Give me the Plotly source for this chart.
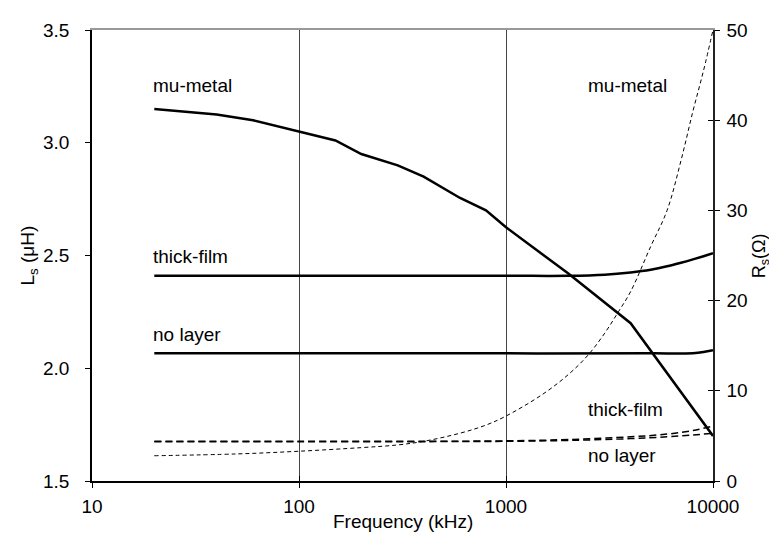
import math
import plotly.graph_objects as go

# ---- data ----
freq_mu_L = [20, 40, 60, 100, 150, 200, 300, 400, 600, 800, 1000, 2000, 4000, 10000]
mu_L = [3.15, 3.125, 3.10, 3.05, 3.01, 2.95, 2.90, 2.85, 2.755, 2.70, 2.625, 2.42, 2.20, 1.70]

freq_tf_L = [20, 100, 1000, 2000, 3000, 4000, 5000, 6000, 7000, 8000, 9000, 10000]
tf_L = [2.41, 2.41, 2.41, 2.41, 2.415, 2.425, 2.437, 2.452, 2.468, 2.483, 2.497, 2.51]

freq_nl_L = [20, 100, 1000, 5000, 8000, 9000, 10000]
nl_L = [2.066, 2.066, 2.066, 2.066, 2.067, 2.072, 2.08]

freq_mu_R = [20, 50, 100, 200, 300, 400, 600, 800, 1000, 1500, 2000, 2500, 3000, 3500,
             4000, 5000, 6000, 7000, 8000, 9000, 10000]
mu_R = [2.8, 3.0, 3.3, 3.7, 4.0, 4.4, 5.3, 6.2, 7.2, 9.6, 11.8, 14.0, 16.4, 18.8,
        21.0, 26.0, 30.0, 35.5, 41.0, 45.5, 50.0]

freq_flat_R = [20, 100, 1000, 2000, 4000, 6000, 8000, 10000]
tf_R = [4.4, 4.4, 4.45, 4.6, 4.9, 5.2, 5.6, 6.1]
nl_R = [4.35, 4.35, 4.4, 4.5, 4.7, 4.9, 5.1, 5.3]

x_ticks = [10, 100, 1000, 10000]
x_tick_text = ["10", "100", "1000", "10000"]
yL_ticks = [1.5, 2.0, 2.5, 3.0, 3.5]
yR_ticks = [0, 10, 20, 30, 40, 50]

FONT = "Liberation Sans, Arial, sans-serif"
FS = 19

fig = go.Figure()

solid = dict(color="black", width=2.5)
fig.add_trace(go.Scatter(x=freq_mu_L, y=mu_L, mode="lines", line=solid, yaxis="y"))
fig.add_trace(go.Scatter(x=freq_tf_L, y=tf_L, mode="lines", line=dict(solid, shape="spline"), yaxis="y"))
fig.add_trace(go.Scatter(x=freq_nl_L, y=nl_L, mode="lines", line=dict(solid, shape="spline"), yaxis="y"))

fig.add_trace(go.Scatter(x=freq_mu_R, y=mu_R, mode="lines", yaxis="y2",
                         line=dict(color="black", width=1, dash="4px,3px", shape="spline")))
fig.add_trace(go.Scatter(x=freq_flat_R, y=tf_R, mode="lines", yaxis="y2",
                         line=dict(color="black", width=1.5, dash="7px,4px", shape="spline")))
fig.add_trace(go.Scatter(x=freq_flat_R, y=nl_R, mode="lines", yaxis="y2",
                         line=dict(color="black", width=1.5, dash="7px,4px", shape="spline")))

tfont = dict(family=FONT, size=FS, color="black")
lab = dict(showarrow=False, xref="x", yref="y", xanchor="left", font=tfont)
xl = math.log10(19.3)
xr = math.log10(2430)
fig.add_annotation(x=xl, y=3.256, text="mu-metal", **lab)
fig.add_annotation(x=xl, y=2.494, text="thick-film", **lab)
fig.add_annotation(x=xl, y=2.150, text="no layer", **lab)
fig.add_annotation(x=xr, y=3.256, text="mu-metal", **lab)
fig.add_annotation(x=xr, y=1.818, text="thick-film", **lab)
fig.add_annotation(x=xr, y=1.613, text="no layer", **lab)

# axis titles
fig.add_annotation(text="Frequency (kHz)", xref="paper", yref="paper", x=0.5, y=-0.089,
                   xanchor="center", yanchor="middle", showarrow=False, font=tfont)
fig.add_annotation(text="L<sub>s</sub> (μH)", xref="paper", yref="paper", x=-0.103, y=0.5,
                   xanchor="center", yanchor="middle", textangle=-90, showarrow=False, font=tfont)
fig.add_annotation(text="R<sub>s</sub>(Ω)", xref="paper", yref="paper", x=1.077, y=0.5,
                   xanchor="center", yanchor="middle", textangle=-90, showarrow=False,
                   font=dict(family=FONT, size=18, color="black"))

fig.update_layout(
    width=777, height=534,
    margin=dict(l=84, r=72, t=14, b=61),
    paper_bgcolor="white", plot_bgcolor="white",
    showlegend=False,
    font=tfont,
    xaxis=dict(type="log", range=[1, 4], tickvals=x_ticks, ticktext=x_tick_text,
               showgrid=True, gridcolor="#444", gridwidth=1,
               showline=True, linecolor="black", linewidth=1.5,
               ticks="outside", ticklen=5, tickcolor="black",
               tickfont=tfont, zeroline=False, ticklabelstandoff=2),
    xaxis2=dict(type="log", range=[1, 4], overlaying="x", side="bottom", anchor="y",
                tickvals=x_ticks, showticklabels=False, showgrid=False,
                ticks="inside", ticklen=5, tickcolor="black", showline=False),
    yaxis=dict(range=[1.5, 3.5], tickvals=yL_ticks, tickformat=".1f",
               showgrid=False, zeroline=False,
               showline=True, linecolor="black", linewidth=1.5,
               ticks="outside", ticklen=5, tickcolor="black",
               tickfont=tfont, ticklabelstandoff=12),
    yaxis2=dict(range=[0, 50], tickvals=yR_ticks, overlaying="y", side="right",
                showgrid=False, zeroline=False,
                showline=True, linecolor="#222", linewidth=1.5,
                ticks="outside", ticklen=5, tickcolor="black",
                tickfont=tfont, ticklabelstandoff=3),
    yaxis3=dict(range=[0, 50], tickvals=yR_ticks, overlaying="y", side="right",
                anchor="x", showgrid=False, zeroline=False, showline=False,
                showticklabels=False, ticks="inside", ticklen=5, tickcolor="black"),
    xaxis3=dict(type="log", range=[1, 4], overlaying="x", side="top",
                showline=True, linecolor="#999", linewidth=1.5,
                showticklabels=False, ticks="", showgrid=False),
)

# helper traces to activate helper axes
fig.add_trace(go.Scatter(x=[10], y=[None], xaxis="x2", yaxis="y3", showlegend=False, hoverinfo="skip"))
fig.add_trace(go.Scatter(x=[10], y=[None], xaxis="x3", yaxis="y", showlegend=False, hoverinfo="skip"))

fig.write_html("out.html")
